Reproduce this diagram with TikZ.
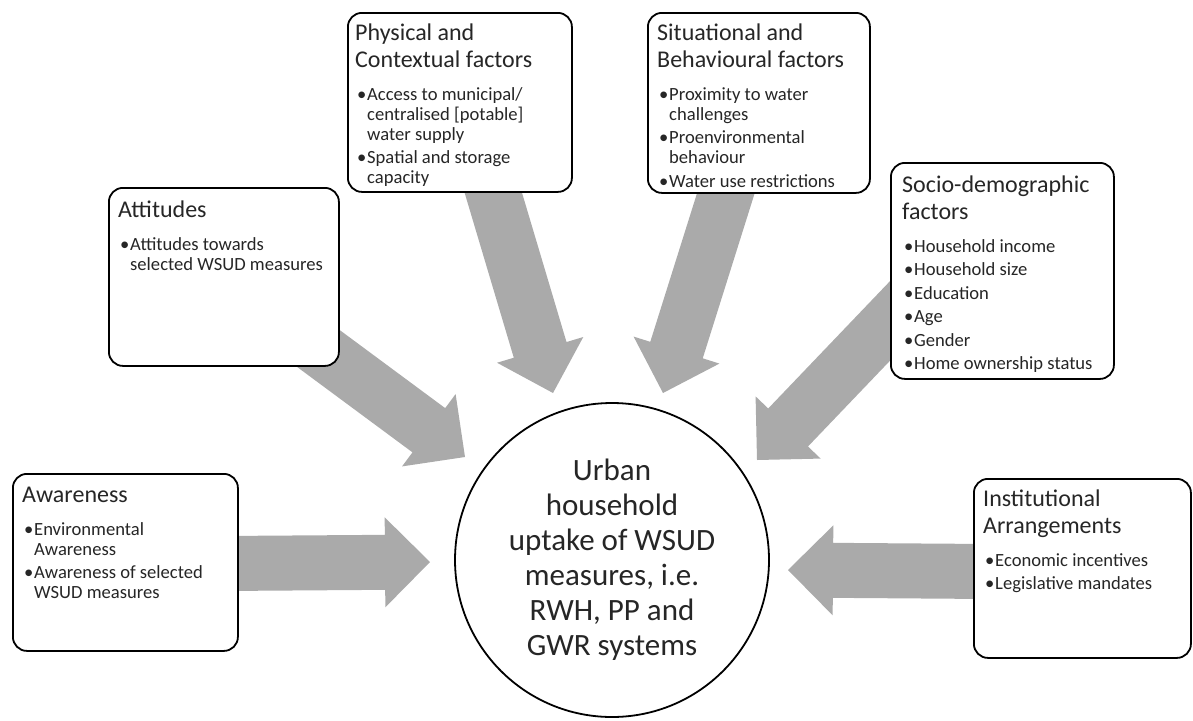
\documentclass[tikz,border=0pt]{standalone}
\usepackage{fontspec}
\setmainfont{Carlito}
\usetikzlibrary{calc}

\definecolor{inkgray}{RGB}{38,38,38}
\definecolor{arrowgray}{RGB}{170,170,170}

\pgfdeclarelayer{arrowlayer}
\pgfsetlayers{arrowlayer,main}

% one bullet point with hanging indent
\newcommand\bitem[1]{\par\hangindent=12pt\hangafter=1\noindent\makebox[12pt][l]{\hspace{2pt}\textbullet}#1}
% title plus bullet list of a factor box; \\ breaks a line without ending the paragraph
\newcommand\factortext[2]{\parbox[t]{250pt}{\raggedright\let\\\newline
  \fontsize{24}{27}\selectfont #1\par\vspace{9.5pt}%
  \fontsize{18.6}{20}\selectfont\setlength\parskip{3.5pt}#2}}
% wide grey block arrow from a start point to a tip
\newcommand\blockarrow[2]{%
  \coordinate (hb) at ($(#2)!45pt!(#1)$);
  \fill[arrowgray] ($(#1)!27.5pt!90:(#2)$) -- ($(hb)!27.5pt!-90:(#1)$) -- ($(hb)!45pt!-90:(#1)$)
    -- (#2) -- ($(hb)!45pt!90:(#1)$) -- ($(hb)!27.5pt!90:(#1)$) -- ($(#1)!27.5pt!-90:(#2)$) -- cycle;}

\begin{document}
\begin{tikzpicture}[x=1pt,y=-1pt,
  factorbox/.style={draw=black, line width=1.8pt, rounded corners=14pt, fill=white,
    anchor=north west, inner sep=0pt},
  factorlabel/.style={anchor=base west, inner sep=0pt, text=inkgray}]
\useasboundingbox (0,0) rectangle (1193,720);

% factor boxes
\node[factorbox, minimum width=225pt, minimum height=177pt] (aware) at (12,473) {};
\node[factorbox, minimum width=230pt, minimum height=178pt] (att) at (108,187) {};
\node[factorbox, minimum width=224pt, minimum height=179pt] (phys) at (347,12) {};
\node[factorbox, minimum width=222pt, minimum height=180pt] (situ) at (647,12) {};
\node[factorbox, minimum width=223pt, minimum height=216pt] (socio) at (890,162) {};
\node[factorbox, minimum width=217pt, minimum height=179pt] (inst) at (973,478) {};

% box contents
\node[factorlabel] (aware-t) at (22,502) {\factortext{Awareness}{%
  \bitem{Environmental\\Awareness}\bitem{Awareness of selected\\WSUD measures}}};
\node[factorlabel] (att-t) at (118,217) {\factortext{Attitudes}{%
  \bitem{Attitudes towards\\selected WSUD measures}}};
\node[factorlabel] (phys-t) at (355,40) {\factortext{Physical and\\Contextual factors}{%
  \bitem{Access to municipal/\\centralised [potable]\\water supply}\bitem{Spatial and storage\\capacity}}};
\node[factorlabel] (situ-t) at (657,40) {\factortext{Situational and\\Behavioural factors}{%
  \bitem{Proximity to water\\challenges}\bitem{Proenvironmental\\behaviour}\bitem{Water use restrictions}}};
\node[factorlabel] (socio-t) at (902,192) {\factortext{Socio-demographic\\factors}{%
  \bitem{Household income}\bitem{Household size}\bitem{Education}\bitem{Age}\bitem{Gender}\bitem{Home ownership status}}};
\node[factorlabel] (inst-t) at (983,506) {\factortext{Institutional\\Arrangements}{%
  \bitem{Economic incentives}\bitem{Legislative mandates}}};

% central outcome
\node[circle, draw=black, line width=1.8pt, fill=white, minimum size=314pt, inner sep=0pt,
  align=center, text=inkgray, font=\fontsize{31}{35}\selectfont] (hub) at (612,560)
  {Urban\\household\\uptake of WSUD\\measures, i.e.\\RWH, PP and\\GWR systems};

% arrow anchors: starts lie under the boxes, tips stop short of the circle
\coordinate (awS) at ($(aware.east)+(-3,1)$);  \coordinate (awT) at (430,562);
\coordinate (atS) at (288,326);               \coordinate (atT) at (465,457);
\coordinate (phS) at (489.5,180);             \coordinate (phT) at (553,393);
\coordinate (siS) at (730,180);               \coordinate (siT) at (663,393);
\coordinate (soS) at (910,300);               \coordinate (soT) at (757,460);
\coordinate (inS) at ($(inst.west)+(3,3)$);   \coordinate (inT) at (788,570);

\begin{pgfonlayer}{arrowlayer}
\blockarrow{awS}{awT}
\blockarrow{atS}{atT}
\blockarrow{phS}{phT}
\blockarrow{siS}{siT}
\blockarrow{soS}{soT}
\blockarrow{inS}{inT}
\end{pgfonlayer}
\end{tikzpicture}
\end{document}
